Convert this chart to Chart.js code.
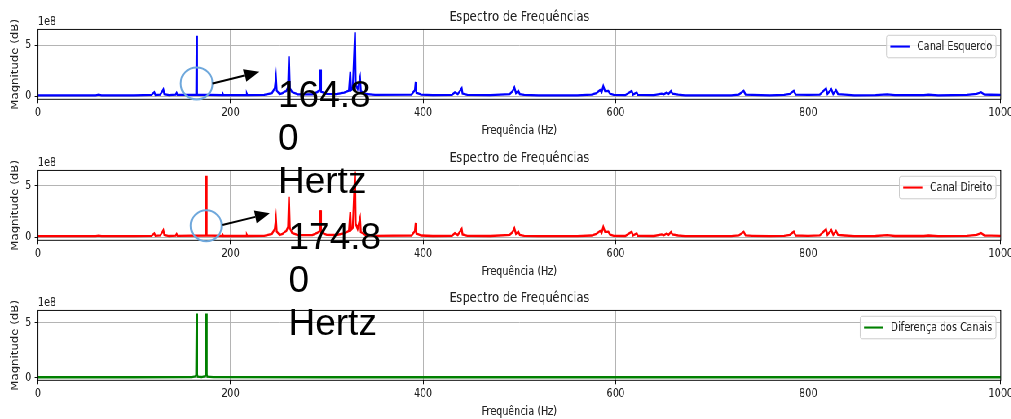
<!DOCTYPE html>
<html>
<head>
<meta charset="utf-8">
<script src="https://cdn.jsdelivr.net/npm/chart.js@4.4.1/dist/chart.umd.min.js"></script>
<style>
html, body { margin: 0; padding: 0; background: #fff; overflow: hidden; }
#page { position: relative; width: 1011px; height: 419px; overflow: hidden; }
/* the source figure is squeezed horizontally, so the plots are drawn wide and scaled */
#plots { position: absolute; left: 0; top: 0; width: 1240px; height: 421px; transform: scaleX(0.815); transform-origin: 0 0; }
#plots canvas { position: absolute; left: 0; }
#marks { position: absolute; left: 0; top: 0; }
.note { position: absolute; font-family: "Liberation Sans", Arial, sans-serif; font-size: 37px; line-height: 43px; color: #000; white-space: pre; }
</style>
</head>
<body>
<div id="page">
  <div id="plots">
    <canvas id="esq" width="1240" height="140" style="top:0px"></canvas>
    <canvas id="dir" width="1240" height="140" style="top:141px"></canvas>
    <canvas id="dif" width="1240" height="140" style="top:281px"></canvas>
  </div>
  <canvas id="marks" width="1011" height="419"></canvas>
  <div class="note" style="left:278px;top:73px">164.8
0
Hertz</div>
  <div class="note" style="left:288.5px;top:215px">174.8
0
Hertz</div>
</div>
<script>
// frequencies (Hz) and magnitudes (in units of 1e8)

// left channel
const leftFreq = [
  0, 60, 63, 66, 100, 118, 120.8, 122, 127, 129, 130.2, 131.3, 136, 143, 144, 145,
  164.4, 164.8, 165.2, 191.5, 192, 192.5, 216.5, 217, 217.5, 235,
  243, 246, 247.2, 248, 251, 254, 256.4, 258, 259.8, 260.7, 261.6, 264, 270,
  285, 290, 292.8, 293.3, 294, 300, 310, 318, 323, 324.4, 325.2, 327, 329.3, 330, 332, 334.5, 335.3, 340, 350,
  388, 391.5, 392.3, 393, 398, 410, 430, 433, 436, 440.1, 441, 446, 470,
  490, 493, 494.8, 496.5, 498.9, 500.5, 505, 520, 560,
  575, 580, 583.8, 585.5, 587.2, 589, 592.4, 594, 598, 610, 616.7, 618, 621.9, 623,
  640, 647.8, 650, 653, 655, 657.5, 659, 665, 672, 720, 728, 733, 735, 742,
  760, 775, 781, 785, 787, 800, 812, 818.5, 820, 824, 826, 828.9, 831, 838, 848,
  870, 882, 890, 920, 925, 935, 965, 975, 979.6, 983, 990, 1000
];
const leftMag = [
  0.08, 0.08, 0.14, 0.08, 0.08, 0.12, 0.39, 0.12, 0.16, 0.45, 0.66, 0.2, 0.1, 0.14, 0.32, 0.12,
  0.15, 5.95, 0.15, 0.1, 0.22, 0.1, 0.1, 0.22, 0.1, 0.12,
  0.3, 0.8, 1.84, 0.55, 0.2, 0.3, 0.45, 0.5, 0.9, 3.94, 0.8, 0.4, 0.18,
  0.18, 0.4, 0.6, 2.63, 0.45, 0.22, 0.2, 0.35, 0.55, 2.4, 0.6, 0.75, 6.3, 1.1, 0.7, 1.8, 0.5, 0.22, 0.12,
  0.15, 0.6, 1.4, 0.35, 0.15, 0.1, 0.12, 0.38, 0.2, 0.77, 0.25, 0.12, 0.1,
  0.2, 0.5, 0.86, 0.3, 0.52, 0.2, 0.12, 0.08, 0.08,
  0.15, 0.3, 0.6, 0.4, 0.99, 0.5, 0.52, 0.25, 0.12, 0.1, 0.52, 0.15, 0.36, 0.12,
  0.1, 0.25, 0.18, 0.35, 0.22, 0.5, 0.25, 0.15, 0.08, 0.08, 0.16, 0.52, 0.15, 0.12,
  0.08, 0.12, 0.22, 0.52, 0.15, 0.12, 0.16, 0.76, 0.22, 0.69, 0.22, 0.59, 0.2, 0.15, 0.08,
  0.1, 0.18, 0.1, 0.1, 0.15, 0.08, 0.12, 0.22, 0.39, 0.15, 0.14, 0.12
];

// right channel
const rightFreq = [
  0, 60, 63, 66, 100, 118, 120.8, 122, 127, 129, 130.2, 131.3, 136, 143, 144, 145,
  174.4, 174.8, 175.2, 191.5, 192, 192.5, 216.5, 217, 217.5, 235,
  243, 246, 247.2, 248, 251, 254, 256.4, 258, 259.8, 260.7, 261.6, 264, 270,
  285, 290, 292.8, 293.3, 294, 300, 310, 318, 323, 324.4, 325.2, 327, 329.3, 330, 332, 334.5, 335.3, 340, 350,
  388, 391.5, 392.3, 393, 398, 410, 430, 433, 436, 440.1, 441, 446, 470,
  490, 493, 494.8, 496.5, 498.9, 500.5, 505, 520, 560,
  575, 580, 583.8, 585.5, 587.2, 589, 592.4, 594, 598, 610, 616.7, 618, 621.9, 623,
  640, 647.8, 650, 653, 655, 657.5, 659, 665, 672, 720, 728, 733, 735, 742,
  760, 775, 781, 785, 787, 800, 812, 818.5, 820, 824, 826, 828.9, 831, 838, 848,
  870, 882, 890, 920, 925, 935, 965, 975, 979.6, 983, 990, 1000
];
const rightMag = [
  0.08, 0.08, 0.14, 0.08, 0.08, 0.12, 0.36, 0.12, 0.16, 0.45, 0.66, 0.2, 0.1, 0.14, 0.3, 0.12,
  0.15, 5.99, 0.15, 0.1, 0.2, 0.1, 0.1, 0.2, 0.1, 0.12,
  0.3, 0.8, 1.81, 0.55, 0.2, 0.3, 0.5, 0.6, 1.0, 3.95, 0.9, 0.4, 0.18,
  0.18, 0.4, 0.6, 2.63, 0.45, 0.22, 0.2, 0.35, 0.6, 2.44, 0.7, 0.9, 6.41, 1.3, 0.8, 1.81, 0.5, 0.22, 0.12,
  0.15, 0.6, 1.38, 0.35, 0.15, 0.1, 0.12, 0.38, 0.2, 0.79, 0.25, 0.12, 0.1,
  0.2, 0.5, 0.86, 0.3, 0.52, 0.2, 0.12, 0.08, 0.08,
  0.15, 0.3, 0.6, 0.4, 0.99, 0.5, 0.52, 0.25, 0.12, 0.1, 0.52, 0.15, 0.36, 0.12,
  0.1, 0.25, 0.18, 0.35, 0.22, 0.5, 0.25, 0.15, 0.08, 0.08, 0.16, 0.52, 0.15, 0.12,
  0.08, 0.12, 0.22, 0.52, 0.15, 0.12, 0.16, 0.76, 0.22, 0.69, 0.22, 0.59, 0.2, 0.15, 0.08,
  0.1, 0.18, 0.1, 0.1, 0.15, 0.08, 0.12, 0.22, 0.39, 0.15, 0.14, 0.12
];

// channel difference
const diffFreq = [0, 100, 160, 163.6, 164.3, 164.8, 165.3, 166, 170, 173.6, 174.3, 174.8, 175.3, 176, 182, 300, 600, 1000];
const diffMag  = [0.03, 0.03, 0.04, 0.12, 0.25, 5.85, 0.25, 0.08, 0.05, 0.12, 0.25, 5.85, 0.25, 0.08, 0.04, 0.03, 0.03, 0.03];

// tick labels
const xTicks = [0, 200, 400, 600, 800, 1000];
const yTicks = [0, 5];

const SX = 0.815;               // horizontal squeeze of the figure
const canvasTops = [0, 141, 281];
const FONT = 'DejaVu Sans';
const TXT = '#222';

// frame, offset text, y label and legend box like matplotlib draws them
const panelDecor = {
  id: 'panelDecor',
  afterDatasetsDraw(chart, args, opts) {
    const {ctx, chartArea: a} = chart;
    ctx.save();
    ctx.strokeStyle = '#000';
    ctx.lineWidth = 0.95;
    ctx.strokeRect(a.left, a.top, a.right - a.left, a.bottom - a.top);

    ctx.fillStyle = TXT;
    ctx.font = '11.75px "' + FONT + '"';
    ctx.textAlign = 'left';
    ctx.textBaseline = 'alphabetic';
    ctx.fillText('1e8', a.left, a.top - 4);

    ctx.save();
    ctx.translate(18.6, (a.top + a.bottom) / 2);
    ctx.rotate(-Math.PI / 2);
    ctx.textAlign = 'center';
    ctx.textBaseline = 'middle';
    ctx.fillText('Magnitude (dB)', 0, 0);
    ctx.restore();

    // legend
    const fs = 11.75;
    const tw = ctx.measureText(opts.label).width;
    const w = 0.4 * fs + 2 * fs + 0.8 * fs + tw + 0.4 * fs;
    const h = 22.5;
    const x0 = a.right - 0.5 * fs - w;
    const y0 = a.top + 0.5 * fs;
    ctx.beginPath();
    ctx.roundRect(x0, y0, w, h, 2.4);
    ctx.fillStyle = 'rgba(255,255,255,0.8)';
    ctx.fill();
    ctx.strokeStyle = '#cccccc';
    ctx.lineWidth = 1;
    ctx.stroke();
    const ly = y0 + h / 2;
    ctx.beginPath();
    ctx.moveTo(x0 + 0.4 * fs, ly);
    ctx.lineTo(x0 + 2.4 * fs, ly);
    ctx.strokeStyle = opts.color;
    ctx.lineWidth = 2.1;
    ctx.stroke();
    ctx.fillStyle = TXT;
    ctx.textBaseline = 'middle';
    ctx.fillText(opts.label, x0 + 3.2 * fs, ly);
    ctx.restore();
  }
};

function makePanel(id, freq, mag, color, label, yMin, yMax) {
  return new Chart(document.getElementById(id), {
    type: 'line',
    data: {
      datasets: [{
        label: label,
        data: freq.map((f, i) => ({x: f, y: mag[i]})),
        borderColor: color,
        borderWidth: 2.3,
        pointRadius: 0,
        tension: 0,
        fill: false
      }]
    },
    options: {
      responsive: false,
      animation: false,
      devicePixelRatio: 1,
      layout: {padding: {left: 0, right: 12.1, top: 0, bottom: 0}},
      scales: {
        x: {
          type: 'linear',
          min: 0,
          max: 1000,
          afterBuildTicks: s => { s.ticks = xTicks.map(v => ({value: v})); },
          afterFit: s => { s.height = 40.7; s.paddingLeft = 0; s.paddingRight = 0; },
          ticks: {font: {family: FONT, size: 11.75}, color: TXT, padding: 3, maxRotation: 0, autoSkip: false, callback: v => String(v)},
          grid: {color: '#b0b0b0', lineWidth: 0.95, tickLength: 4, tickColor: '#000', tickWidth: 0.95},
          border: {display: false},
          title: {display: true, text: 'Frequência (Hz)', font: {family: FONT, size: 11.75}, color: TXT, padding: {top: 0, bottom: 2.4}}
        },
        y: {
          type: 'linear',
          min: yMin,
          max: yMax,
          afterBuildTicks: s => { s.ticks = yTicks.map(v => ({value: v})); },
          afterFit: s => { s.width = 46.6; s.paddingTop = 0; s.paddingBottom = 0; },
          ticks: {font: {family: FONT, size: 11.75}, color: TXT, padding: 4, callback: v => String(v)},
          grid: {color: '#b0b0b0', lineWidth: 0.95, tickLength: 4, tickColor: '#000', tickWidth: 0.95},
          border: {display: false}
        }
      },
      plugins: {
        legend: {display: false},
        tooltip: {enabled: false},
        title: {
          display: true,
          fullSize: false,
          text: 'Espectro de Frequências',
          font: {family: FONT, size: 14.1, weight: 'normal'},
          color: TXT,
          padding: {top: 8.5, bottom: 4}
        },
        panelDecor: {label: label, color: color}
      }
    },
    plugins: [panelDecor]
  });
}

const charts = [
  makePanel('esq', leftFreq, leftMag, '#0000ff', 'Canal Esquerdo', -0.31, 6.58),
  makePanel('dir', rightFreq, rightMag, '#ff0000', 'Canal Direito', -0.32, 6.52),
  makePanel('dif', diffFreq, diffMag, '#008000', 'Diferença dos Canais', -0.25, 6.14)
];

// hand-drawn circles and arrows pointing at the two main peaks
const circleNotes = [
  {panel: 0, freq: 164.8, mag: 1.25, r: 16, arrow: [16, 0, 62.6, -11.7]},
  {panel: 1, freq: 174.8, mag: 1.1, r: 15.5, arrow: [16, -0.8, 63.6, -12.5]}
];

const mctx = document.getElementById('marks').getContext('2d');
circleNotes.forEach(n => {
  const ch = charts[n.panel];
  const cx = SX * ch.scales.x.getPixelForValue(n.freq);
  const cy = canvasTops[n.panel] + ch.scales.y.getPixelForValue(n.mag);
  mctx.beginPath();
  mctx.arc(cx, cy, n.r, 0, Math.PI * 2);
  mctx.strokeStyle = '#6fa8dc';
  mctx.lineWidth = 2;
  mctx.stroke();

  const x1 = cx + n.arrow[0], y1 = cy + n.arrow[1];
  const x2 = cx + n.arrow[2], y2 = cy + n.arrow[3];
  const ang = Math.atan2(y2 - y1, x2 - x1);
  const head = 15, half = 6.5;
  const bx = x2 - head * Math.cos(ang), by = y2 - head * Math.sin(ang);
  mctx.beginPath();
  mctx.moveTo(x1, y1);
  mctx.lineTo(bx, by);
  mctx.strokeStyle = '#000';
  mctx.lineWidth = 2;
  mctx.stroke();
  mctx.beginPath();
  mctx.moveTo(x2, y2);
  mctx.lineTo(bx + half * Math.sin(ang), by - half * Math.cos(ang));
  mctx.lineTo(bx - half * Math.sin(ang), by + half * Math.cos(ang));
  mctx.closePath();
  mctx.fillStyle = '#000';
  mctx.fill();
});
</script>
</body>
</html>
